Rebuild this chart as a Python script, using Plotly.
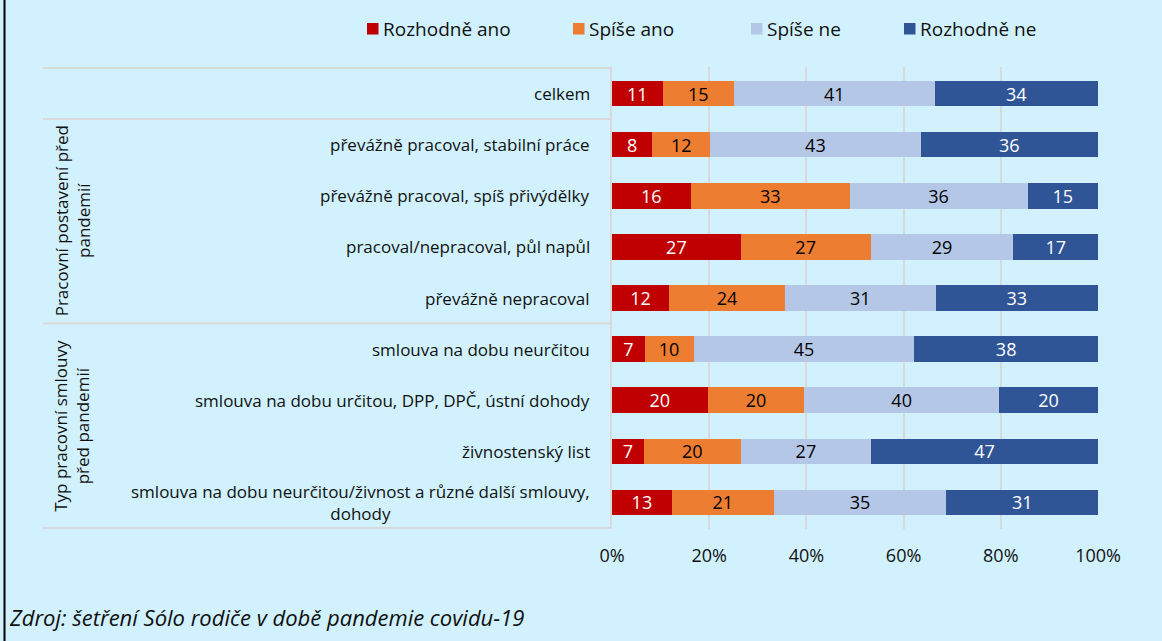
import plotly.graph_objects as go

# ---------------- data ----------------
categories = [
    "celkem",
    "převážně pracoval, stabilní práce",
    "převážně pracoval, spíš přivýdělky",
    "pracoval/nepracoval, půl napůl",
    "převážně nepracoval",
    "smlouva na dobu neurčitou",
    "smlouva na dobu určitou, DPP, DPČ, ústní dohody",
    "živnostenský list",
    "smlouva na dobu neurčitou/živnost a různé další smlouvy,<br>dohody",
]
series_names = ["Rozhodně ano", "Spíše ano", "Spíše ne", "Rozhodně ne"]

# bar lengths (share in %)
rozhodne_ano = [10.4, 8.3, 16.2, 26.5, 11.7, 6.7, 19.7, 6.5, 12.3]
spise_ano = [14.7, 11.9, 32.7, 26.7, 23.9, 10.1, 19.9, 20.0, 21.0]
spise_ne = [41.3, 43.3, 36.6, 29.4, 31.0, 45.4, 40.0, 26.8, 35.5]
rozhodne_ne = [33.6, 36.5, 14.5, 17.4, 33.4, 37.8, 20.4, 46.7, 31.2]

# data labels as printed in the chart
lbl_rozhodne_ano = [11, 8, 16, 27, 12, 7, 20, 7, 13]
lbl_spise_ano = [15, 12, 33, 27, 24, 10, 20, 20, 21]
lbl_spise_ne = [41, 43, 36, 29, 31, 45, 40, 27, 35]
lbl_rozhodne_ne = [34, 36, 15, 17, 33, 38, 20, 47, 31]

groups = [
    ("Pracovní postavení před<br>pandemií", 1, 4),
    ("Typ pracovní smlouvy<br>před pandemií", 5, 8),
]
x_ticks = [0, 20, 40, 60, 80, 100]
source_text = "Zdroj: šetření Sólo rodiče v době pandemie covidu-19"

# ---------------- style ----------------
W, H = 1162, 641
ML, MR, MT, MB = 612, 64, 67, 112
PW, PH = W - ML - MR, H - MT - MB
BG = "#D0F1FD"
GRID = "#D9D9D9"
FONT = "Open Sans"
TXT = "#111111"
colors = ["#C00000", "#ED7D31", "#B4C7E7", "#2F5597"]
text_colors = ["white", "black", "black", "white"]


def px2x(px):
    return (px - ML) / PW


def py2y(py):
    return (H - MB - py) / PH


values = [rozhodne_ano, spise_ano, spise_ne, rozhodne_ne]
labels = [lbl_rozhodne_ano, lbl_spise_ano, lbl_spise_ne, lbl_rozhodne_ne]

fig = go.Figure()
for name, vals, lbls, col, tcol in zip(series_names, values, labels, colors, text_colors):
    fig.add_trace(go.Bar(
        name=name, y=categories, x=vals, orientation="h",
        marker=dict(color=col, line=dict(width=0)),
        text=[str(v) for v in lbls], textposition="inside",
        insidetextanchor="middle", textangle=0, constraintext="none",
        textfont=dict(family=FONT, size=18, color=tcol),
        showlegend=False, hoverinfo="skip",
    ))

shapes = []
annotations = []

# category labels (centered multi-line, right aligned to axis)
for c in categories:
    annotations.append(dict(
        text=c, x=px2x(592), xref="paper", xanchor="right",
        y=c, yref="y", yanchor="middle", showarrow=False, align="center",
        font=dict(family=FONT, size=17, color=TXT),
    ))

# group separator lines
for b in [-0.5, 0.5, 4.5, 8.5]:
    shapes.append(dict(type="line", xref="paper", yref="y",
                       x0=px2x(43), x1=0, y0=b, y1=b,
                       line=dict(color=GRID, width=2)))

# group labels
for txt, a, b in groups:
    annotations.append(dict(
        text=txt, x=px2x(72), xref="paper", xanchor="center",
        y=(a + b) / 2, yref="y", yanchor="middle", textangle=-90,
        showarrow=False, align="center",
        font=dict(family=FONT, size=17, color=TXT),
    ))

# legend (manual)
leg_sq = [367, 573, 751, 904]
for name, col, sx in zip(series_names, colors, leg_sq):
    shapes.append(dict(type="rect", xref="paper", yref="paper",
                       x0=px2x(sx), x1=px2x(sx + 11.5),
                       y0=py2y(34.5), y1=py2y(23), fillcolor=col,
                       line=dict(width=0)))
    annotations.append(dict(
        text=name, x=px2x(sx + 14), xref="paper", xanchor="left",
        y=py2y(29), yref="paper", yanchor="middle", showarrow=False,
        font=dict(family=FONT, size=19, color=TXT),
    ))

# source
annotations.append(dict(
    text="<i>" + source_text + "</i>", x=px2x(7), xref="paper", xanchor="left",
    y=py2y(617), yref="paper", yanchor="middle", showarrow=False,
    font=dict(family=FONT, size=22, color=TXT),
))

# left frame border
shapes.append(dict(type="line", xref="paper", yref="paper",
                   x0=px2x(4.5), x1=px2x(4.5), y0=py2y(H), y1=py2y(0),
                   line=dict(color="black", width=2)))

fig.update_layout(
    width=W, height=H, barmode="stack", bargap=0.5,
    margin=dict(l=ML, r=MR, t=MT, b=MB, autoexpand=False),
    paper_bgcolor=BG, plot_bgcolor=BG,
    shapes=shapes, annotations=annotations,
)
fig.update_xaxes(
    range=[0, 100], tickvals=x_ticks, ticktext=[f"{t}%" for t in x_ticks],
    showgrid=True, gridcolor=GRID, gridwidth=2, zeroline=False,
    showline=False, ticks="", ticklabelstandoff=14,
    tickfont=dict(family=FONT, size=18, color=TXT), fixedrange=True,
)
fig.update_yaxes(
    categoryorder="array", categoryarray=categories, autorange="reversed",
    showticklabels=False, showgrid=False, zeroline=False,
    showline=True, linecolor=GRID, linewidth=2, ticks="",
)

fig.write_html(
    "out.html",
    config={"displayModeBar": False},
    post_script="document.body.style.margin='0';document.body.style.padding='0';",
)
